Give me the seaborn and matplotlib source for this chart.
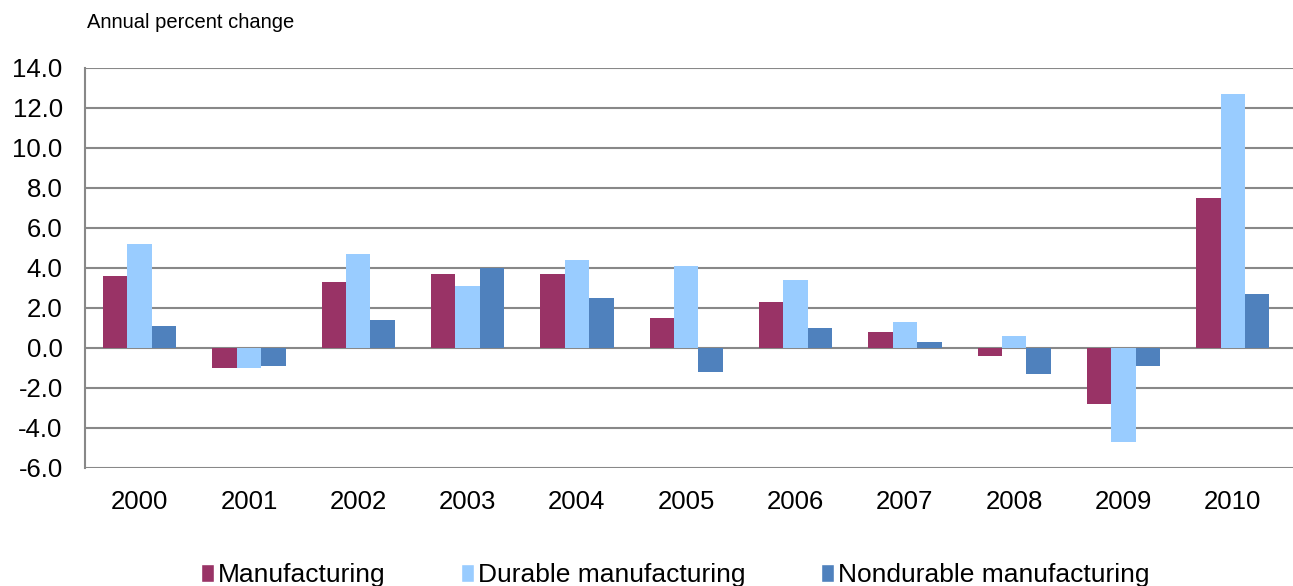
import pandas as pd
import numpy as np
import matplotlib.pyplot as plt
import seaborn as sns
from matplotlib.patches import Patch

years = ["2000", "2001", "2002", "2003", "2004", "2005",
         "2006", "2007", "2008", "2009", "2010"]
manufacturing = [3.6, -1.0, 3.3, 3.7, 3.7, 1.5, 2.3, 0.8, -0.4, -2.8, 7.5]
durable = [5.2, -1.0, 4.7, 3.1, 4.4, 4.1, 3.4, 1.3, 0.6, -4.7, 12.7]
nondurable = [1.1, -0.9, 1.4, 4.0, 2.5, -1.2, 1.0, 0.3, -1.3, -0.9, 2.7]
series_names = ["Manufacturing", "Durable manufacturing", "Nondurable manufacturing"]
colors = ["#993366", "#99CCFF", "#4F81BD"]

# long form table for seaborn
df = pd.DataFrame({
    "year": years * 3,
    "value": manufacturing + durable + nondurable,
    "series": np.repeat(series_names, len(years)),
})

sns.set_style("white")
plt.rcParams["font.family"] = ["Liberation Sans", "DejaVu Sans"]
plt.rcParams["text.color"] = "black"
plt.rcParams["xtick.color"] = "black"
plt.rcParams["ytick.color"] = "black"

fig = plt.figure(figsize=(12.93, 5.86), dpi=100)
ax = fig.add_axes([0.0657, 0.2014, 0.9343, 0.6826])

sns.barplot(data=df, x="year", y="value", hue="series", palette=colors,
            width=0.67, saturation=1, linewidth=0, ax=ax, legend=False)

yticks = np.arange(-6, 14.1, 2)
ax.set_ylim(-6, 14)
ax.set_yticks(yticks)
ax.set_yticklabels([f"{v:.1f}" for v in yticks], fontsize=18.5)
ax.set_xlim(-0.5, len(years) - 0.5 + 0.05)
ax.tick_params(axis="x", labelsize=18.5, length=0, pad=16)
ax.tick_params(axis="y", length=0, pad=16)
ax.set_xlabel("")
ax.set_ylabel("")

ax.grid(axis="y", color="#888888", linewidth=1.5)
ax.set_axisbelow(True)
for side in ["top", "right", "bottom"]:
    ax.spines[side].set_visible(False)
ax.spines["left"].set_color("#888888")
ax.spines["left"].set_linewidth(1.5)

fig.text(0.067, 0.962, "Annual percent change", fontsize=14.5, ha="left", va="center")

handles = [Patch(facecolor=c, label=n) for c, n in zip(colors, series_names)]
fig.legend(handles=handles, loc="center", bbox_to_anchor=(0.522, 0.018), ncol=3,
           frameon=False, fontsize=19, handlelength=0.5, handleheight=0.7,
           handletextpad=0.15, columnspacing=2.85, borderpad=0)

fig.savefig("out.png", dpi=100)
